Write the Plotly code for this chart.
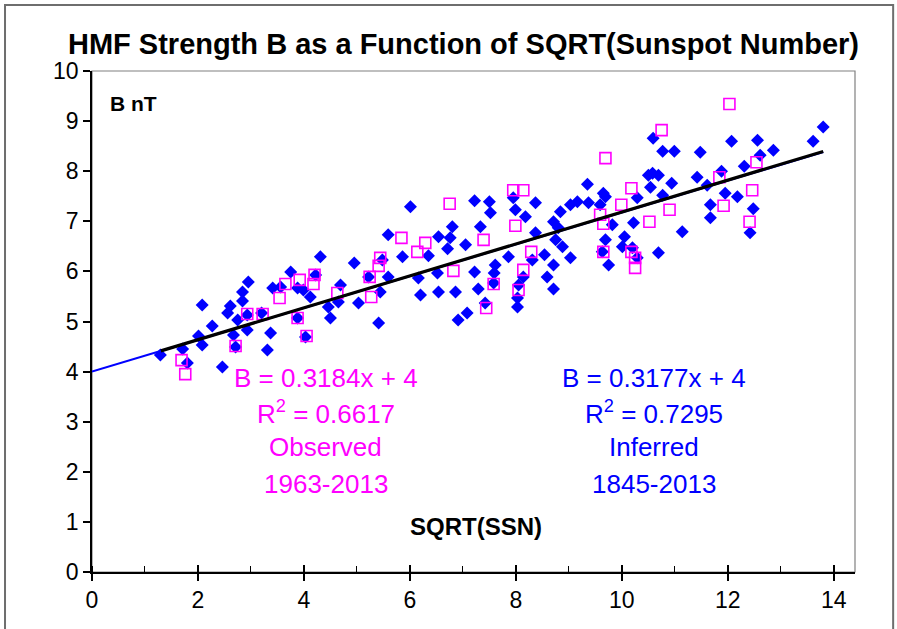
import plotly.graph_objects as go

# Inferred HMF strength (1845-2013): sqrt(sunspot number) vs B [nT]
inferred_x = [1.29, 2.08, 2.27, 2.01, 2.08, 1.71, 1.80, 2.46, 2.95, 2.84, 2.84, 2.61, 2.56, 2.75,
              2.67, 2.93, 3.37, 3.31, 3.41, 3.56, 3.75, 3.88, 3.99, 4.12, 3.88, 4.03, 4.31, 4.22,
              3.20, 2.71, 2.93, 4.46, 4.50, 4.69, 4.65, 4.95, 5.03, 5.22, 5.41, 5.48, 5.59, 5.59,
              5.44, 5.86, 6.01, 6.20, 6.16, 6.35, 6.54, 6.71, 6.80, 6.76, 6.54, 6.86, 6.52, 7.05,
              7.22, 7.50, 7.52, 7.33, 7.22, 7.29, 7.42, 7.61, 7.59, 7.58, 7.86, 7.95, 7.99, 8.18,
              8.37, 8.37, 8.14, 8.05, 8.03, 8.03, 8.31, 6.91, 7.08, 8.54, 8.71, 8.71, 8.84, 8.59,
              8.71, 8.75, 8.88, 8.80, 9.03, 9.16, 9.35, 9.37, 9.59, 9.65, 9.69, 9.82, 9.69, 9.63,
              9.75, 10.05, 10.01, 10.22, 10.20, 10.29, 10.29, 10.50, 10.58, 10.69, 10.54, 10.77,
              10.94, 10.59, 10.77, 10.99, 10.69, 11.14, 11.42, 11.48, 9.03, 12.07, 12.56, 12.61,
              12.86, 12.31, 11.88, 11.61, 11.95, 12.18, 11.67, 11.67, 12.48, 12.42, 13.61, 13.80]
inferred_b = [4.33, 5.33, 4.91, 4.71, 4.53, 4.45, 4.17, 4.09, 5.79, 5.59, 5.41, 5.31, 5.17, 5.03,
              4.73, 4.83, 4.77, 4.43, 5.67, 5.69, 5.99, 5.67, 5.63, 5.49, 5.07, 4.69, 6.29, 5.93,
              5.17, 4.49, 5.13, 5.29, 5.07, 5.73, 5.39, 6.17, 5.37, 5.89, 4.97, 6.23, 6.73, 5.89,
              5.59, 6.29, 7.29, 5.53, 5.87, 6.31, 6.69, 6.45, 6.89, 6.67, 5.59, 5.59, 5.97, 6.53,
              7.41, 7.39, 7.17, 6.89, 5.99, 5.65, 5.37, 6.13, 5.97, 5.77, 6.29, 7.47, 7.23, 7.09,
              7.37, 6.77, 5.89, 5.73, 5.47, 5.29, 6.23, 5.03, 5.17, 6.33, 6.13, 6.99, 7.19, 5.89,
              5.65, 6.63, 6.49, 6.87, 7.33, 7.39, 7.74, 7.37, 7.33, 7.56, 7.49, 6.93, 6.63, 6.39,
              6.13, 6.69, 6.49, 6.97, 6.47, 6.27, 7.47, 7.92, 7.96, 7.92, 7.68, 7.52,
              7.76, 8.66, 8.40, 8.40, 6.37, 6.79, 7.88, 8.38, 6.27, 8.60, 8.62, 8.32,
              8.42, 8.10, 8.00, 7.72, 7.56, 7.49, 7.33, 7.07, 7.25, 6.77, 8.60, 8.88]

# Observed HMF strength (1963-2013)
observed_x = [1.69, 1.76, 2.71, 2.93, 3.22, 3.54, 3.65, 3.92, 4.18, 3.88, 4.05, 4.20, 4.63,
              5.24, 5.27, 5.41, 5.44, 5.84, 6.14, 6.29, 6.75, 6.82, 7.39, 7.58, 7.44, 7.95,
              8.14, 7.99, 8.29, 8.14, 8.05, 9.69, 10.18, 9.99, 9.59, 9.65, 10.52, 10.90,
              10.75, 9.65, 10.18, 10.25, 10.25, 12.03, 12.54, 11.84, 12.46, 11.92, 12.41]
observed_b = [4.23, 3.95, 4.51, 5.15, 5.15, 5.47, 5.75, 5.83, 5.75, 5.07, 4.71, 5.93, 5.57,
              5.89, 5.49, 6.11, 6.27, 6.67, 6.39, 6.57, 7.35, 6.01, 6.63, 5.75, 5.27, 7.62,
              7.62, 6.91, 6.39, 6.03, 5.63, 8.26, 7.66, 7.33, 7.13, 6.95, 6.99, 7.23,
              8.82, 6.39, 6.39, 6.27, 6.07, 9.34, 8.18, 7.88, 7.62, 7.31, 6.99]

# Linear fits B = a*x + 4
obs_slope, obs_r2 = 0.3184, 0.6617
inf_slope, inf_r2 = 0.3177, 0.7295
intercept = 4
inf_line_x = [0, 13.8]
obs_line_x = [1.3, 13.8]

x_ticks = [0, 2, 4, 6, 8, 10, 12, 14]
y_ticks = list(range(0, 11))

FONT = "Arial, Liberation Sans, sans-serif"
BLUE = "#0000FF"
PINK = "#FF00FF"

fig = go.Figure()
fig.add_trace(go.Scatter(
    x=inferred_x, y=inferred_b, mode="markers",
    marker=dict(symbol="diamond", size=10, color=BLUE, line=dict(width=0)),
    hoverinfo="x+y", name="Inferred"))
fig.add_trace(go.Scatter(
    x=observed_x, y=observed_b, mode="markers",
    marker=dict(symbol="square-open", size=11, color=PINK, line=dict(width=1.6, color=PINK)),
    name="Observed"))
fig.add_trace(go.Scatter(
    x=inf_line_x, y=[inf_slope * v + intercept for v in inf_line_x], mode="lines",
    line=dict(color=BLUE, width=2), hoverinfo="skip"))
fig.add_trace(go.Scatter(
    x=obs_line_x, y=[obs_slope * v + intercept for v in obs_line_x], mode="lines",
    line=dict(color="black", width=3.2), hoverinfo="skip"))
# empty trace so the overlay axis (crossing tick marks) is drawn
fig.add_trace(go.Scatter(x=[None], y=[None], xaxis="x2", yaxis="y",
                         mode="markers", hoverinfo="skip"))

annotations = []
def label(x, y, text, color, size=26, bold=False):
    annotations.append(dict(
        x=x, y=y, xref="x", yref="y", text=f"<b>{text}</b>" if bold else text,
        showarrow=False, font=dict(family=FONT, size=size, color=color),
        xanchor="center", yanchor="middle"))

obs_cx, inf_cx = 4.41, 10.61
label(obs_cx, 3.87, f"B = {obs_slope}x + {intercept}", PINK)
label(obs_cx, 3.19, f"R<sup>2</sup> = {obs_r2}", PINK)
label(obs_cx, 2.49, "Observed", PINK)
label(obs_cx, 1.76, "1963-2013", PINK)
label(inf_cx, 3.87, f"B = {inf_slope}x + {intercept}", BLUE)
label(inf_cx, 3.19, f"R<sup>2</sup> = {inf_r2}", BLUE)
label(inf_cx, 2.49, "Inferred", BLUE)
label(inf_cx, 1.76, "1845-2013", BLUE)
label(7.24, 0.90, "SQRT(SSN)", "black", size=24, bold=True)
annotations.append(dict(
    x=0.3, y=9.35, xref="x", yref="y", text="<b>B nT</b>", showarrow=False,
    xanchor="left", yanchor="middle", font=dict(family=FONT, size=21, color="black")))
annotations.append(dict(
    x=0.487, y=1.054, xref="paper", yref="paper",
    text="<b>HMF Strength B as a Function of SQRT(Sunspot Number)</b>",
    showarrow=False, xanchor="center", yanchor="middle",
    font=dict(family=FONT, size=29, color="black")))

fig.update_layout(
    width=897, height=629,
    margin=dict(l=92, r=42, t=71, b=57),
    paper_bgcolor="white", plot_bgcolor="white",
    showlegend=False,
    font=dict(family=FONT, size=23, color="black"),
    annotations=annotations,
    xaxis=dict(range=[0, 14.4], tickvals=x_ticks, ticks="outside", ticklen=7,
               tickwidth=1.5, tickcolor="black", showline=True, linecolor="black",
               linewidth=1.5, showgrid=False, zeroline=False,
               tickfont=dict(size=23, family=FONT),
               minor=dict(dtick=1, tick0=0, ticks="inside", ticklen=6,
                          tickcolor="black", tickwidth=1.2)),
    xaxis2=dict(range=[0, 14.4], overlaying="x", anchor="y", side="bottom",
                tickvals=x_ticks, ticks="inside", ticklen=7, tickwidth=1.5,
                tickcolor="black", showticklabels=False, showline=False,
                showgrid=False, zeroline=False),
    yaxis=dict(range=[0, 10], tickvals=y_ticks, ticks="outside", ticklen=7,
               tickwidth=1.5, tickcolor="black", showline=True, linecolor="black",
               linewidth=1.5, showgrid=False, zeroline=False,
               tickfont=dict(size=23, family=FONT)),
    shapes=[
        # plot-area border (top and right show gray)
        dict(type="rect", xref="paper", yref="paper", x0=0, y0=0, x1=1, y1=1,
             line=dict(color="#808080", width=1.2), layer="below"),
        # outer chart frame
        dict(type="rect", xref="paper", yref="paper", x0=-0.114, y0=-0.2,
             x1=1.05, y1=1.1317, line=dict(color="#6e6e6e", width=2), layer="below"),
    ],
)

fig.write_html("out.html")
